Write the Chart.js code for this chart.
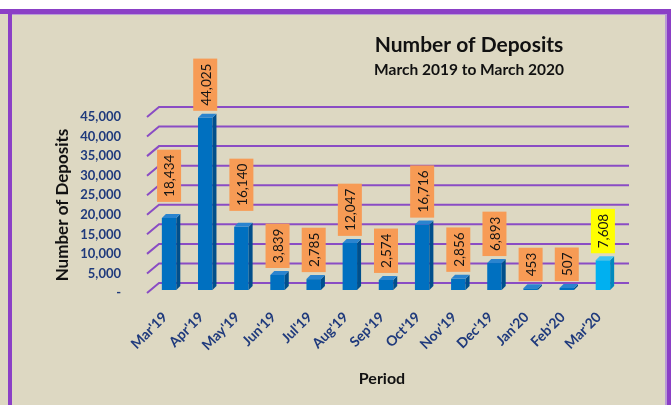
<!DOCTYPE html>
<html>
<head>
<meta charset="utf-8">
<script src="https://cdn.jsdelivr.net/npm/chart.js@4.4.1/dist/chart.umd.min.js"></script>
<style>
  html, body { margin: 0; padding: 0; background: #ddd8c2; }
  canvas { display: block; }
</style>
</head>
<body>
<canvas id="deposits" width="671" height="405"></canvas>
<script>
const periods = ["Mar'19", "Apr'19", "May'19", "Jun'19", "Jul'19", "Aug'19", "Sep'19",
  "Oct'19", "Nov'19", "Dec'19", "Jan'20", "Feb'20", "Mar'20"];
const deposits = [18434, 44025, 16140, 3839, 2785, 12047, 2574, 16716, 2856, 6893, 453, 507, 7608];
const yTickValues = [0, 5000, 10000, 15000, 20000, 25000, 30000, 35000, 40000, 45000];

const FONT = 'Lato, "Open Sans", sans-serif';
const highlight = "Mar'20";
// a couple of labels were nudged up by hand in the original
const labelRaise = { "Mar'19": 9, "May'19": 9 };

const wallDx = 12, wallDy = -10;   // back wall offset for gridlines
const barDx = 4, barDy = -3;       // bars sit a little behind the front plane
const depth = 4;                   // bar thickness in 3d

const frontCol = periods.map(p => p === highlight ? '#00b0f0' : '#0070c0');
const sideCol = periods.map(p => p === highlight ? '#0089bd' : '#004f8c');
const topCol = periods.map(p => p === highlight ? '#3fc4f4' : '#2a84cf');
const boxCol = periods.map(p => p === highlight ? '#ffff00' : '#f79b55');

const frame = {
  id: 'frame',
  beforeDraw(chart) {
    const ctx = chart.ctx;
    ctx.save();
    ctx.fillStyle = '#ddd8c2';
    ctx.fillRect(0, 0, chart.width, chart.height);
    ctx.fillStyle = '#ffffff';
    ctx.fillRect(0, 0, chart.width, 9);
    ctx.fillStyle = '#8b3fc6';
    ctx.fillRect(0, 9, chart.width, 5);
    ctx.fillRect(8, 9, 4, chart.height);
    ctx.fillRect(667, 9, 4, chart.height);
    ctx.fillStyle = '#b99ad6';
    ctx.fillRect(12, 14, 655, 1);
    ctx.fillRect(665, 14, 2, chart.height);
    ctx.restore();
  },
  afterDraw(chart) {
    const ctx = chart.ctx;
    ctx.save();
    ctx.fillStyle = '#111';
    ctx.textAlign = 'center';
    ctx.textBaseline = 'middle';
    ctx.font = 'bold 21px ' + FONT;
    ctx.fillText('Number of Deposits', 469, 45);
    ctx.font = 'bold 15.5px ' + FONT;
    ctx.fillText('March 2019 to March 2020', 469, 70);
    ctx.restore();
  }
};

const wall = {
  id: 'wall',
  beforeDatasetsDraw(chart) {
    const ctx = chart.ctx, y = chart.scales.y, a = chart.chartArea;
    ctx.save();
    ctx.strokeStyle = '#8a4cc4';
    ctx.lineWidth = 2;
    y.ticks.forEach(t => {
      const py = y.getPixelForValue(t.value);
      ctx.beginPath();
      ctx.moveTo(a.left, py);
      ctx.lineTo(a.left + wallDx, py + wallDy);
      ctx.lineTo(a.right + wallDx, py + wallDy);
      ctx.stroke();
    });
    ctx.restore();
    ctx.save();
    ctx.translate(barDx, barDy);
  },
  afterDatasetsDraw(chart) {
    const ctx = chart.ctx;
    const meta = chart.getDatasetMeta(0);
    meta.data.forEach((bar, i) => {
      const l = bar.x - bar.width / 2, r = bar.x + bar.width / 2;
      const t = bar.y, b = bar.base;
      ctx.fillStyle = sideCol[i];
      ctx.beginPath();
      ctx.moveTo(r, t); ctx.lineTo(r + depth, t - depth);
      ctx.lineTo(r + depth, b - depth); ctx.lineTo(r, b);
      ctx.closePath(); ctx.fill();
      ctx.fillStyle = topCol[i];
      ctx.beginPath();
      ctx.moveTo(l, t); ctx.lineTo(l + depth, t - depth);
      ctx.lineTo(r + depth, t - depth); ctx.lineTo(r, t);
      ctx.closePath(); ctx.fill();
    });
    // value boxes
    ctx.font = '13.5px ' + FONT;
    meta.data.forEach((bar, i) => {
      const txt = deposits[i].toLocaleString('en-US');
      const w = 24, h = ctx.measureText(txt).width + 10;
      const bottom = bar.y - depth - 3 - (labelRaise[periods[i]] || 0);
      ctx.fillStyle = boxCol[i];
      ctx.fillRect(bar.x - w / 2, bottom - h, w, h);
      ctx.save();
      ctx.translate(bar.x, bottom - h / 2);
      ctx.rotate(-Math.PI / 2);
      ctx.fillStyle = '#151515';
      ctx.textAlign = 'center';
      ctx.textBaseline = 'middle';
      ctx.fillText(txt, 0, 1);
      ctx.restore();
    });
    ctx.restore();
  }
};

new Chart(document.getElementById('deposits'), {
  type: 'bar',
  data: {
    labels: periods,
    datasets: [{
      data: deposits,
      backgroundColor: frontCol,
      borderWidth: 0,
      barPercentage: 0.4,
      categoryPercentage: 1
    }]
  },
  options: {
    responsive: false,
    animation: false,
    layout: { padding: { top: 117, right: 54, bottom: 12, left: 40 } },
    plugins: {
      legend: { display: false },
      tooltip: { enabled: false }
    },
    scales: {
      x: {
        afterFit(scale) { scale.height = 100; },
        grid: { display: false },
        border: { display: false },
        ticks: {
          color: '#1f3a7c',
          font: { family: FONT, size: 14, weight: 'bold' },
          minRotation: 45,
          maxRotation: 45,
          padding: 8
        },
        title: {
          display: true,
          text: 'Period',
          color: '#111',
          font: { family: FONT, size: 16, weight: 'bold' },
          padding: { top: 0, bottom: 5 }
        }
      },
      y: {
        min: 0,
        max: 45000,
        afterBuildTicks(scale) {
          scale.ticks = yTickValues.map(v => ({ value: v }));
        },
        afterFit(scale) { scale.width = 107; },
        grid: { display: false },
        border: { display: false },
        ticks: {
          color: '#1f3a7c',
          font: { family: FONT, size: 13, weight: 'bold' },
          padding: 18,
          callback: v => v === 0 ? '-' : v.toLocaleString('en-US')
        },
        title: {
          display: true,
          text: 'Number of Deposits',
          color: '#111',
          font: { family: FONT, size: 17, weight: 'bold' },
          padding: { top: 12, bottom: 0 }
        }
      }
    }
  },
  plugins: [frame, wall]
});
</script>
</body>
</html>
